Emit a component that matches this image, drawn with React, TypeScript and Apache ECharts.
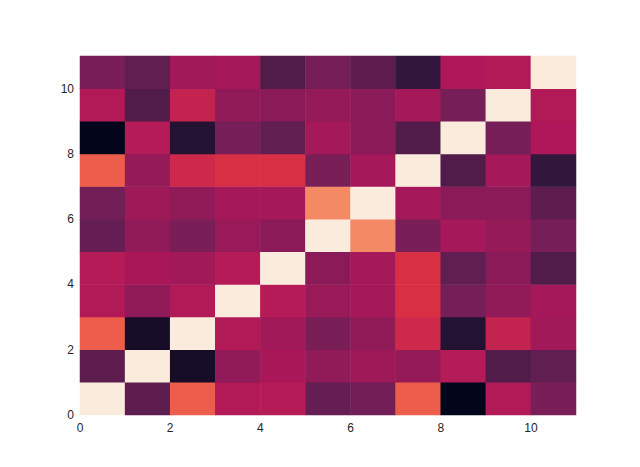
import React, { useEffect, useRef } from "react";
import * as echarts from "echarts";

const cells = ["0", "1", "2", "3", "4", "5", "6", "7", "8", "9", "10"];

// rows from bottom (row 0) to top (row 10), columns left to right
const row0 = [1.0, 0.24, 0.66, 0.44, 0.45, 0.26, 0.29, 0.66, 0.0, 0.44, 0.31];
const row1 = [0.24, 1.0, 0.06, 0.36, 0.42, 0.36, 0.39, 0.37, 0.45, 0.21, 0.25];
const row2 = [0.66, 0.06, 1.0, 0.44, 0.4, 0.31, 0.36, 0.52, 0.09, 0.49, 0.4];
const row3 = [0.44, 0.36, 0.44, 1.0, 0.45, 0.38, 0.41, 0.55, 0.3, 0.36, 0.41];
const row4 = [0.45, 0.42, 0.4, 0.45, 1.0, 0.35, 0.41, 0.55, 0.25, 0.35, 0.21];
const row5 = [0.26, 0.36, 0.31, 0.38, 0.35, 1.0, 0.76, 0.31, 0.41, 0.37, 0.3];
const row6 = [0.29, 0.39, 0.36, 0.41, 0.41, 0.76, 1.0, 0.41, 0.35, 0.35, 0.24];
const row7 = [0.66, 0.37, 0.52, 0.55, 0.55, 0.31, 0.41, 1.0, 0.21, 0.41, 0.13];
const row8 = [0.0, 0.45, 0.09, 0.3, 0.25, 0.41, 0.35, 0.21, 1.0, 0.3, 0.43];
const row9 = [0.44, 0.21, 0.49, 0.36, 0.35, 0.37, 0.35, 0.41, 0.3, 1.0, 0.44];
const row10 = [0.31, 0.25, 0.4, 0.41, 0.21, 0.3, 0.24, 0.13, 0.43, 0.44, 1.0];

const rows = [row0, row1, row2, row3, row4, row5, row6, row7, row8, row9, row10];

const tickMin = 0;
const tickMax = 11;
const tickStep = 2;

const rocket = ["#03051a", "#35193e", "#701f57", "#ad1759", "#e13342", "#f37651", "#f6b48f", "#faebdd"];

export default function App() {
  const ref = useRef<HTMLDivElement>(null);
  useEffect(() => {
    if (!ref.current) return;
    const chart = echarts.init(ref.current, null, { renderer: "svg" });
    const data: [number, number, number][] = [];
    rows.forEach((r, y) => r.forEach((v, x) => data.push([x, y, v])));
    const labelStyle = {
      color: "#262626",
      fontFamily: "Liberation Sans",
      fontSize: 12,
    };
    const fmt = (v: number) => (v === tickMax ? "" : String(v));
    chart.setOption({
      animation: false,
      backgroundColor: "#ffffff",
      grid: { left: 80, right: 64, top: 56, bottom: 52, containLabel: false },
      xAxis: [
        { type: "category", data: cells, show: false },
        {
          type: "value",
          min: tickMin,
          max: tickMax,
          interval: tickStep,
          position: "bottom",
          axisLine: { show: false },
          axisTick: { show: false },
          splitLine: { show: false },
          axisLabel: { ...labelStyle, margin: 7, formatter: fmt, showMaxLabel: false },
        },
      ],
      yAxis: [
        { type: "category", data: cells, show: false },
        {
          type: "value",
          min: tickMin,
          max: tickMax,
          interval: tickStep,
          position: "left",
          axisLine: { show: false },
          axisTick: { show: false },
          splitLine: { show: false },
          axisLabel: { ...labelStyle, margin: 6, formatter: fmt, showMaxLabel: false },
        },
      ],
      visualMap: {
        show: false,
        min: 0,
        max: 1,
        dimension: 2,
        inRange: { color: rocket },
      },
      series: [
        {
          type: "heatmap",
          xAxisIndex: 0,
          yAxisIndex: 0,
          data,
          itemStyle: { borderWidth: 0 },
          emphasis: { disabled: true },
        },
      ],
    });
    return () => chart.dispose();
  }, []);
  return (
    <div
      ref={ref}
      style={{ position: "fixed", left: 0, top: 0, width: 640, height: 467 }}
    />
  );
}
